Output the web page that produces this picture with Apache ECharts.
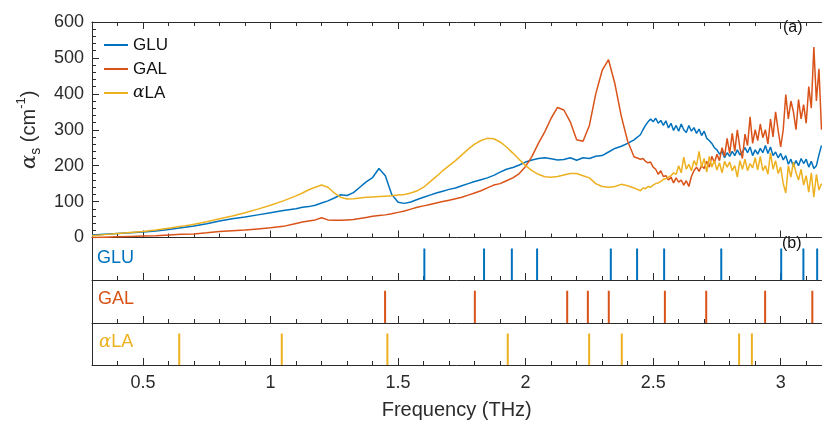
<!DOCTYPE html>
<html>
<head>
<meta charset="utf-8">
<script src="https://cdn.jsdelivr.net/npm/echarts@6/dist/echarts.min.js"></script>
<style>
  html, body { margin: 0; padding: 0; background: #fff; }
  #chart { width: 822px; height: 421px; }
</style>
</head>
<body>
<div id="chart"></div>
<script>
// frequency grid (THz) shared by the three absorption curves
var freq = [
  0.30,0.35,0.40,0.45,0.50,0.55,0.60,0.65,0.70,0.75,0.80,0.85,0.90,0.95,1.00,1.05,
  1.10,1.125,1.15,1.175,1.20,1.225,1.25,1.275,1.30,1.325,1.35,1.375,1.40,1.425,1.45,1.475,
  1.50,1.525,1.55,1.575,1.60,1.625,1.65,1.675,1.70,1.725,1.75,1.775,1.80,1.825,1.85,1.875,
  1.90,1.925,1.95,1.975,2.00,2.025,2.05,2.075,2.10,2.125,2.15,2.175,2.20,2.225,2.25,2.275,
  2.30,2.325,2.35,2.375,2.40,2.425,2.45,
  2.46,2.47,2.48,2.49,2.50,2.51,2.52,2.53,2.54,2.55,
  2.56,2.57,2.58,2.59,2.60,2.61,2.62,2.63,2.64,2.65,
  2.66,2.67,2.68,2.69,2.70,2.71,2.72,2.73,2.74,2.75,
  2.76,2.77,2.78,2.79,2.80,2.81,2.82,2.83,2.84,2.85,
  2.86,2.87,2.88,2.89,2.90,2.91,2.92,2.93,2.94,2.95,
  2.96,2.97,2.98,2.99,3.00,3.01,3.02,3.03,3.04,3.05,
  3.06,3.07,3.08,3.09,3.10,3.11,3.12,3.13,3.14,3.15,
  3.16
];

// alpha_s (cm^-1)
var gluAbs = [
  7,9,11,13,15,18,22,27,32,38,46,52,57,63,69,75,
  80,84,86,90,96,102,110,119,117,125,140,155,167,192,172,120,
  98,95,99,106,112,118,124,129,134,138,144,150,156,161,166,173,
  182,190,195,202,210,216,220,222,219,216,217,222,215,222,220,226,
  228,238,248,254,262,272,286,
  300,312,322,330,322,332,318,326,312,325,
  305,318,298,312,296,316,300,292,312,296,
  306,290,302,284,296,276,270,262,250,244,
  232,240,222,236,226,240,228,244,230,238,
  250,236,252,228,244,232,248,236,256,234,
  252,228,238,222,234,216,228,204,218,198,
  214,200,220,206,218,196,212,192,200,230,
  256
];

var galAbs = [
  0,1,2,3,4,5,7,9,10,13,17,19,21,24,27,31,
  39,43,46,49,55,49,48,48,49,50,53,56,59,61,63,66,
  70,74,79,84,88,92,96,100,104,108,112,118,124,130,138,146,
  150,158,166,178,198,226,262,294,332,362,355,322,272,268,312,400,
  465,495,428,338,268,225,218,
  220,212,208,210,196,190,176,186,170,172,
  160,168,152,166,154,160,146,158,142,170,
  186,196,184,200,192,212,196,226,208,232,
  214,250,226,276,234,290,240,300,250,220,
  288,256,336,262,300,270,316,278,300,260,
  330,280,350,298,252,300,398,330,380,350,
  300,384,330,370,318,420,360,530,380,470,
  300
];

var alaAbs = [
  5,8,11,14,17,21,26,31,37,44,52,60,69,79,90,102,
  116,124,133,140,146,140,124,112,107,108,110,112,113,114,115,116,
  118,120,124,130,140,155,170,186,200,214,230,246,260,270,276,275,
  266,252,235,217,200,186,176,169,168,170,174,178,178,172,166,150,
  142,140,142,148,144,138,130,
  138,136,142,140,146,150,152,156,162,164,
  168,172,180,176,200,180,224,190,204,186,
  214,200,240,196,220,182,226,196,214,188,
  208,180,212,196,210,186,200,168,214,190,
  218,186,206,194,222,188,226,186,200,176,
  236,190,214,178,196,150,124,200,168,210,
  180,160,190,146,172,126,180,112,176,132,
  150
];

// calculated mode frequencies (THz)
var gluModes = [1.603, 1.837, 1.946, 2.045, 2.334, 2.437, 2.543, 2.767, 3.002, 3.089, 3.143];
var galModes = [1.449, 1.801, 2.163, 2.244, 2.326, 2.546, 2.708, 2.939, 3.124];
var alaModes = [0.642, 1.044, 1.458, 1.930, 2.249, 2.377, 2.837, 2.887];
var stickHeight = 0.75;

var xMajorTicks = [0.5, 1, 1.5, 2, 2.5, 3];
var xMinorTicks = [0.3,0.4,0.6,0.7,0.8,0.9,1.1,1.2,1.3,1.4,1.6,1.7,1.8,1.9,2.1,2.2,2.3,2.4,2.6,2.7,2.8,2.9,3.1];

var xMin = 0.3, xMax = 3.16;
var axisColor = '#2b2b2b';
var font = '"Liberation Sans", Arial, sans-serif';
var cBlue = '#0072BD', cRed = '#D95319', cYellow = '#EDB120';

var myChart = echarts.init(document.getElementById('chart'));

function pairs(xs, ys) {
  return xs.map(function(x, i) { return [x, ys[i]]; });
}

function xAxisFor(grid, pos, ticks, len, showLine) {
  return {
    type: 'value',
    gridIndex: grid,
    position: pos,
    offset: 0,
    min: xMin,
    max: xMax,
    axisLine: { show: showLine, onZero: false, lineStyle: { color: axisColor, width: 1 } },
    axisTick: { show: true, inside: true, length: len, customValues: ticks, lineStyle: { color: axisColor, width: 1 } },
    axisLabel: { show: false },
    splitLine: { show: false }
  };
}

var xAxes = [];
// grid 0 : spectra
xAxes.push(xAxisFor(0, 'bottom', xMajorTicks, 7, true));   // 0
xAxes.push(xAxisFor(0, 'bottom', xMinorTicks, 4, false));  // 1
xAxes.push(xAxisFor(0, 'top', xMajorTicks, 7, true));      // 2
xAxes.push(xAxisFor(0, 'top', xMinorTicks, 4, false));     // 3
// grids 1..3 : stick panels
for (var g = 1; g <= 3; g++) {
  xAxes.push(xAxisFor(g, 'bottom', xMajorTicks, 7, true));
  xAxes.push(xAxisFor(g, 'bottom', xMinorTicks, 4, false));
}
var lastX = xAxes[8];
lastX.axisLabel = {
  show: true, customValues: xMajorTicks, margin: 9,
  fontSize: 18, fontFamily: font, color: axisColor
};
lastX.name = 'Frequency (THz)';
lastX.nameLocation = 'middle';
lastX.nameGap = 35;
lastX.nameTextStyle = { fontSize: 20, fontFamily: font, color: axisColor };

var yAxes = [{
  type: 'value',
  gridIndex: 0,
  min: 0, max: 600, interval: 100,
  axisLine: { show: true, onZero: false, lineStyle: { color: axisColor, width: 1 } },
  axisTick: { show: true, inside: true, length: 7, lineStyle: { color: axisColor } },
  minorTick: { show: true, splitNumber: 5, length: 4, lineStyle: { color: axisColor } },
  axisLabel: { fontSize: 18, fontFamily: font, color: axisColor, margin: 8 },
  splitLine: { show: false },
  name: '{a|α}{s|s} (cm{p|-1})',
  nameLocation: 'middle',
  nameGap: 41,
  nameTextStyle: {
    fontSize: 20, fontFamily: font, color: axisColor, lineHeight: 28,
    rich: {
      a: { fontSize: 21, fontFamily: '"DejaVu Serif", serif', fontStyle: 'italic', color: axisColor, lineHeight: 28 },
      s: { fontSize: 14, fontFamily: font, color: axisColor, verticalAlign: 'bottom', lineHeight: 28 },
      p: { fontSize: 13, fontFamily: font, color: axisColor, verticalAlign: 'top', lineHeight: 28 }
    }
  }
}];
for (var k = 1; k <= 3; k++) {
  yAxes.push({
    type: 'value', gridIndex: k, min: 0, max: 1,
    axisLine: { show: true, onZero: false, lineStyle: { color: axisColor, width: 1 } },
    axisTick: { show: false },
    axisLabel: { show: false },
    splitLine: { show: false }
  });
}

function lineSeries(name, ys, color) {
  return {
    name: name, type: 'line', xAxisIndex: 0, yAxisIndex: 0,
    data: pairs(freq, ys),
    symbol: 'none', clip: true,
    lineStyle: { color: color, width: 1.5 },
    itemStyle: { color: color }
  };
}

function stickSeries(modes, grid, color) {
  return {
    type: 'bar', xAxisIndex: 4 + (grid - 1) * 2, yAxisIndex: grid,
    barWidth: 2,
    data: modes.map(function(f) { return [f, stickHeight]; }),
    itemStyle: { color: color }
  };
}

var option = {
  animation: false,
  backgroundColor: '#fff',
  grid: [
    { left: 92, top: 22, width: 729.5, height: 215.5 },
    { left: 92, top: 238, width: 729.5, height: 42 },
    { left: 92, top: 280, width: 729.5, height: 43 },
    { left: 92, top: 323, width: 729.5, height: 42 }
  ],
  xAxis: xAxes,
  yAxis: yAxes,
  legend: {
    data: ['GLU', 'GAL', 'αLA'],
    orient: 'vertical',
    left: 99, top: 31,
    icon: 'rect',
    itemWidth: 24, itemHeight: 2,
    itemGap: 6,
    textStyle: {
      fontSize: 17, fontFamily: font, color: '#111', lineHeight: 18,
      rich: { a: { fontSize: 17, fontFamily: '"DejaVu Serif", serif', fontStyle: 'italic', color: '#111' } }
    },
    formatter: function(name) {
      return name === 'αLA' ? '{a|α}LA' : name;
    }
  },
  graphic: [
    { type: 'text', left: 783, top: 20, style: { text: '(a)', fontSize: 16, fontFamily: font, fill: '#111' } },
    { type: 'text', left: 782, top: 236, style: { text: '(b)', fontSize: 16, fontFamily: font, fill: '#111' } },
    { type: 'text', left: 97, top: 249, style: { text: 'GLU', fontSize: 18, fontFamily: font, fill: cBlue } },
    { type: 'text', left: 98, top: 290, style: { text: 'GAL', fontSize: 18, fontFamily: font, fill: cRed } },
    { type: 'text', left: 99, top: 333, style: {
        text: '{a|α}LA', fontSize: 18, fontFamily: font, fill: cYellow,
        rich: { a: { fontSize: 18, fontFamily: '"DejaVu Serif", serif', fontStyle: 'italic', fill: cYellow } }
    } }
  ],
  series: [
    lineSeries('GLU', gluAbs, cBlue),
    lineSeries('GAL', galAbs, cRed),
    lineSeries('αLA', alaAbs, cYellow),
    stickSeries(gluModes, 1, cBlue),
    stickSeries(galModes, 2, cRed),
    stickSeries(alaModes, 3, cYellow)
  ]
};

myChart.setOption(option);
</script>
</body>
</html>
